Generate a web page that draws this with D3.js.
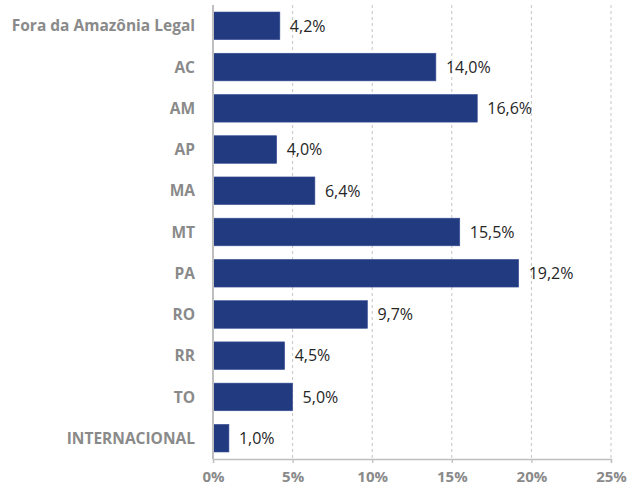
<!DOCTYPE html>
<html>
<head>
<meta charset="utf-8">
<script src="https://cdn.jsdelivr.net/npm/d3@7"></script>
<style>
  body { margin: 0; background: #fff; }
  svg { display: block; }
</style>
</head>
<body>
<div id="chart"></div>
<script>
// data
const categories = ['Fora da Amazônia Legal', 'AC', 'AM', 'AP', 'MA', 'MT', 'PA', 'RO', 'RR', 'TO', 'INTERNACIONAL'];
const values = [4.2, 14.0, 16.6, 4.0, 6.4, 15.5, 19.2, 9.7, 4.5, 5.0, 1.0];
const xTicks = [0, 5, 10, 15, 20, 25];

const width = 628, height = 486;
const margin = {top: 5, right: 17, bottom: 27, left: 213};

const svg = d3.select('#chart').append('svg')
    .attr('width', width)
    .attr('height', height);

const x = d3.scaleLinear()
    .domain([0, 25])
    .range([margin.left, width - margin.right]);

const y = d3.scaleBand()
    .domain(categories)
    .range([margin.top, height - margin.bottom])
    .paddingInner(0.33)
    .paddingOuter(0.17);

// gridlines
svg.append('g')
    .selectAll('line')
    .data(xTicks.slice(1))
    .enter().append('line')
    .attr('x1', d => x(d)).attr('x2', d => x(d))
    .attr('y1', margin.top).attr('y2', height - margin.bottom)
    .attr('stroke', '#c6c6c6')
    .attr('stroke-width', 1)
    .attr('stroke-dasharray', '3,3');

// bottom axis
const xAxis = svg.append('g')
    .attr('transform', `translate(0,${height - margin.bottom})`)
    .call(d3.axisBottom(x).tickValues(xTicks).tickSize(4).tickPadding(8).tickFormat(d => d + '%'));
xAxis.select('.domain').attr('stroke', '#bfbfbf').attr('stroke-width', 1.3);
xAxis.selectAll('.tick line').attr('stroke', '#bfbfbf').attr('stroke-width', 1.3);
xAxis.selectAll('text')
    .attr('fill', '#8a8a8a')
    .style('font-family', '"Open Sans", sans-serif')
    .style('font-size', '15px')
    .style('font-weight', 'bold');

// bars
svg.append('g')
    .selectAll('rect')
    .data(values)
    .enter().append('rect')
    .attr('x', x(0))
    .attr('y', (d, i) => y(categories[i]))
    .attr('width', d => x(d) - x(0))
    .attr('height', y.bandwidth())
    .attr('fill', '#223a80')
    .attr('stroke', '#3a5096')
    .attr('stroke-width', 0.6);

// left axis line
svg.append('line')
    .attr('x1', x(0)).attr('x2', x(0))
    .attr('y1', margin.top).attr('y2', height - margin.bottom)
    .attr('stroke', '#bfbfbf')
    .attr('stroke-width', 2);

// value labels
svg.append('g')
    .selectAll('text')
    .data(values)
    .enter().append('text')
    .attr('x', d => x(d) + 10)
    .attr('y', (d, i) => y(categories[i]) + y.bandwidth() / 2)
    .attr('dy', '0.36em')
    .attr('fill', '#262626')
    .style('font-family', '"Open Sans", sans-serif')
    .style('font-size', '16px')
    .text(d => d.toFixed(1).replace('.', ',') + '%');

// category labels
svg.append('g')
    .selectAll('text')
    .data(categories)
    .enter().append('text')
    .attr('x', x(0) - 18)
    .attr('y', d => y(d) + y.bandwidth() / 2)
    .attr('dy', '0.36em')
    .attr('text-anchor', 'end')
    .attr('fill', '#8a8a8a')
    .style('font-family', '"Open Sans", sans-serif')
    .style('font-size', '15.5px')
    .style('font-weight', 'bold')
    .text(d => d);
</script>
</body>
</html>
